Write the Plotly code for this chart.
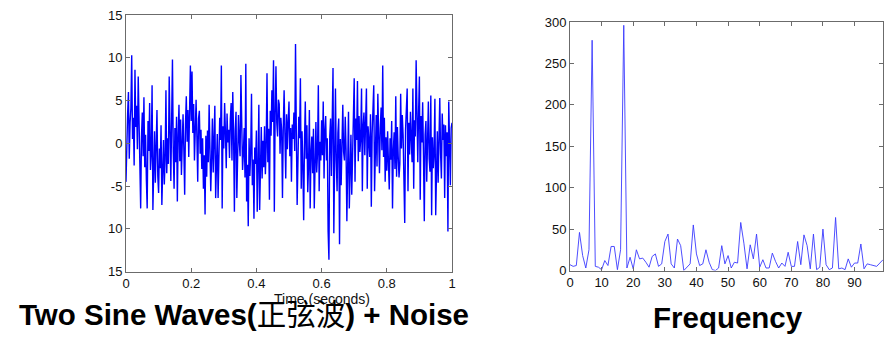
import plotly.graph_objects as go

# ---- time-domain signal (step 0.0025 s) ----
signal = [
    -4.5, 1.2, 3.5, 6.0, -1.8, 2.4, 4.1, 10.3, 0.5, 3.0, -2.6, 8.6, 1.9, 4.4, -0.7, 7.8,
    2.2, -3.4, -7.6, 0.8, 3.6, -1.5, 5.4, -2.8, 1.0, -4.3, -7.6, 2.6, -0.9, 4.7, -3.1, -1.2,
    6.8, -7.8, -2.5, 1.4, -4.6, -1.1, 3.9, -3.8, -5.8, -0.6, -2.9, 2.1, -7.2, -3.3, 0.4, -4.8,
    -1.9, 6.2, -3.5, 0.6, -2.4, 7.8, -0.3, -4.4, 2.7, 9.8, -1.0, -5.3, 1.8, -2.2, 3.1, -6.8,
    0.9, 4.5, -2.1, 2.8, -3.7, 1.5, 3.4, -0.8, -6.0, 2.3, 5.5, 0.2, 3.9, -1.6, 4.8, 9.1,
    2.6, 8.4, 1.2, 4.6, -2.0, 3.3, 5.1, 0.7, -4.5, 2.9, 3.8, -1.2, 1.6, -3.0, 0.6, -5.3,
    -1.4, -8.3, 0.9, -3.9, 1.5, -2.2, 4.5, -0.6, -5.6, -1.8, 2.9, -3.4, 0.3, 4.4, -6.4, -2.0,
    1.1, -6.4, -2.3, 3.0, 0.4, 9.1, -7.6, 2.0, -0.6, 4.7, 1.3, -2.9, 3.5, 0.1, 1.6, -1.7,
    2.8, 4.7, -2.0, 6.0, 0.9, -8.0, 1.5, 3.7, -6.4, 2.4, 3.3, 0.2, -1.5, 8.0, 2.1, -3.1,
    -1.2, 1.8, -4.0, 9.3, -6.8, -2.5, -9.7, 0.6, -3.8, -1.0, 5.8, -4.9, -1.9, -8.8, -0.5, -2.4,
    1.5, -8.0, -2.7, 4.5, -7.8, -1.3, 1.9, -4.1, 0.3, -2.8, 2.0, -3.6, -0.4, 8.2, -2.2, 1.7,
    -6.6, 3.8, 0.9, 6.2, 2.5, 9.7, -8.0, 3.4, 9.0, 2.4, 0.8, 5.1, 4.6, -1.2, 3.0, 1.5,
    -6.4, 2.0, 6.2, 1.0, -4.1, 3.4, -0.7, 2.6, 4.9, -1.5, 1.8, -4.5, 2.2, 0.5, 3.6, -0.9,
    11.6, 1.3, -7.2, -2.0, 3.1, 0.6, 7.6, -5.3, 1.4, -2.6, -9.0, 0.2, 4.9, -1.8, 2.1, -5.7,
    -2.6, 3.9, -7.6, -1.0, 0.8, -3.5, 1.7, -7.6, -0.4, 2.5, -3.4, -1.1, 6.8, -5.6, 0.2, -2.0,
    2.7, -1.4, 4.9, -4.1, 1.5, 3.2, -2.0, 0.6, -10.3, -13.6, 0.8, 2.9, -3.8, 1.6, 8.8, -10.5,
    3.4, 6.4, -2.1, -5.6, 1.2, 2.9, -11.8, 0.5, -4.9, 2.6, 4.5, -1.0, -2.0, 3.1, -0.7, -9.1,
    1.8, 3.7, -7.6, -1.8, 1.0, -6.0, -0.9, 2.4, 7.6, -4.5, 2.9, 0.4, 7.3, -2.1, 3.2, -1.0,
    0.6, 6.4, -5.6, 2.1, 3.6, -1.4, 1.9, 6.4, -5.3, 2.0, 0.3, -1.6, 3.4, -7.4, 1.1, 4.0,
    6.8, -5.6, 0.9, 3.3, -2.7, 5.8, 1.0, -3.5, 1.8, 4.2, -0.8, 9.1, -1.6, 3.0, -4.5, 0.7,
    -3.2, 1.4, -2.2, -5.4, 0.6, -1.9, 2.6, -7.6, -0.8, 1.3, -3.0, 5.5, -3.9, 1.9, -1.5, -4.0,
    -2.4, 5.8, -0.6, 3.3, 1.0, -2.8, -9.3, 1.6, 4.0, 6.4, -5.6, 2.4, -1.3, 3.7, 0.5, -2.2,
    6.4, -5.3, 2.7, 0.8, 9.7, 1.9, -2.2, 3.6, 7.8, -6.6, 3.2, 0.1, 4.8, -1.4, -9.1, 1.0,
    2.6, -4.5, -0.7, 4.9, -1.8, -3.3, 5.6, -8.4, 0.7, -2.9, -1.2, 5.2, -8.4, -2.3, 1.4, -4.6,
    0.9, 5.3, -1.2, -4.1, 3.5, 0.4, 2.2, -6.4, 2.1, -1.5, 1.3, -10.3, 4.9, -0.8, -4.9, 1.8,
    2.4,
]
time_step = 0.0025
time = [i * time_step for i in range(len(signal))]

# ---- frequency magnitude (estimated, index 0..99) ----
freq_amp = [
    7, 5, 6, 46, 18, 3, 25, 278, 5, 4,
    1, 12, 6, 29, 29, 1, 25, 296, 3, 16,
    2, 25, 14, 15, 10, 4, 17, 20, 5, 8,
    35, 44, 8, 3, 38, 30, 0, 4, 8, 55,
    20, 6, 8, 25, 10, 1, 0, 3, 30, 8,
    18, 3, 10, 9, 58, 33, 2, 31, 14, 44,
    4, 13, 3, 3, 21, 11, 3, 9, 5, 22,
    5, 5, 35, 7, 43, 30, 2, 44, 1, 4,
    50, 7, 1, 3, 64, 2, 3, 1, 14, 4,
    9, 9, 32, 2, 8, 7, 6, 5, 9, 13,
]
freq = list(range(len(freq_amp)))

# ---- tick labels ----
left_xticks = [0, 0.2, 0.4, 0.6, 0.8, 1]
left_xticktext = ["0", "0.2", "0.4", "0.6", "0.8", "1"]
left_yticks = [-15, -10, -5, 0, 5, 10, 15]
left_yticktext = ["15", "10", "-5", "0", "5", "10", "15"]
right_xticks = [0, 10, 20, 30, 40, 50, 60, 70, 80, 90]
right_yticks = [0, 50, 100, 150, 200, 250, 300]

W, H = 895, 339
FONT = "Liberation Sans, Arial, sans-serif"
AXC = "#6b6b6b"

fig = go.Figure()
fig.add_trace(go.Scatter(x=time, y=signal, mode="lines",
                         line=dict(color="#0000ff", width=1.4),
                         xaxis="x", yaxis="y", showlegend=False))
fig.add_trace(go.Scatter(x=freq, y=freq_amp, mode="lines",
                         line=dict(color="#3a3aff", width=0.9),
                         xaxis="x2", yaxis="y2", showlegend=False))

common = dict(showline=True, linecolor=AXC, linewidth=1, mirror="ticks",
              ticks="inside", ticklen=4, tickcolor=AXC, showgrid=False,
              zeroline=False, automargin=False,
              tickfont=dict(family=FONT, size=13, color="#111"))

fig.update_layout(
    width=W, height=H,
    margin=dict(l=0, r=0, t=0, b=0, pad=0),
    paper_bgcolor="white", plot_bgcolor="white",
    xaxis=dict(domain=[126 / W, 452 / W], range=[0, 1], anchor="y",
               tickvals=left_xticks, ticktext=left_xticktext, **common),
    yaxis=dict(domain=[(H - 271.7) / H, (H - 15) / H], range=[-15, 15], anchor="x",
               tickvals=left_yticks, ticktext=left_yticktext, **common),
    xaxis2=dict(domain=[570 / W, 883 / W], range=[0, 99], anchor="y2",
                tickvals=right_xticks, **common),
    yaxis2=dict(domain=[(H - 270.5) / H, (H - 22) / H], range=[0, 300], anchor="x2",
                tickvals=right_yticks, **common),
    annotations=[
        dict(text="Time (seconds)", x=321.5 / W, y=(H - 298.5) / H,
             xref="paper", yref="paper", showarrow=False,
             xanchor="center", yanchor="middle",
             font=dict(family=FONT, size=14, color="#111")),
        dict(text="<b>Two Sine Waves(</b>正弦波<b>) + Noise</b>", x=243.5 / W, y=(H - 314) / H,
             xref="paper", yref="paper", showarrow=False,
             xanchor="center", yanchor="middle",
             font=dict(family="Liberation Sans, Arial, Noto Sans CJK SC, sans-serif", size=29.5, color="#000")),
        dict(text="<b>Frequency</b>", x=728 / W, y=(H - 317) / H,
             xref="paper", yref="paper", showarrow=False,
             xanchor="center", yanchor="middle",
             font=dict(family=FONT, size=29.5, color="#000")),
    ],
)

fig.write_html("out.html")
